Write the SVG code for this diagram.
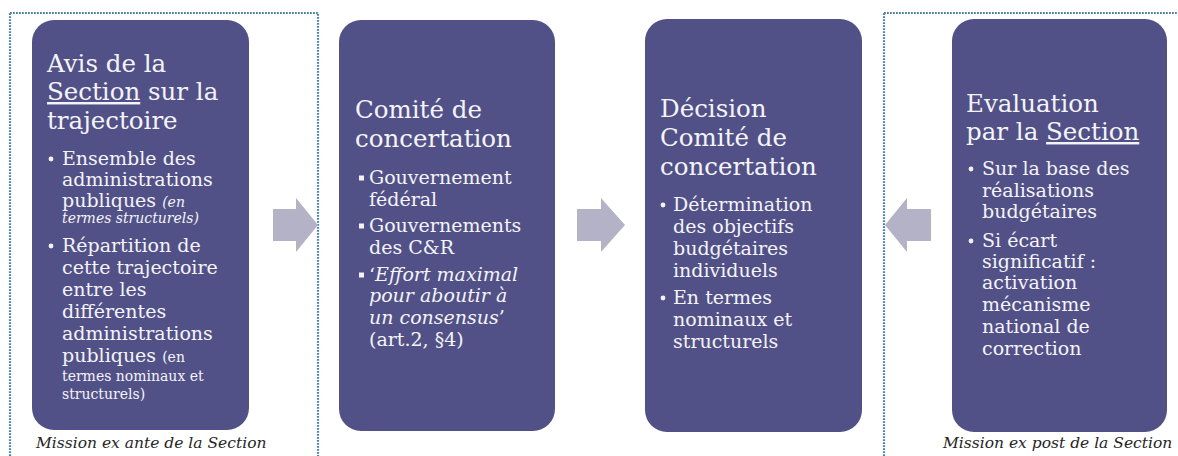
<svg xmlns="http://www.w3.org/2000/svg" width="1178" height="456" viewBox="0 0 1178 456">
<style>
.frame{fill:none;stroke:#4a82ab;stroke-width:2.2;stroke-dasharray:1.8 1.2}
.box{fill:#525187}
.t{font-family:"DejaVu Serif","Liberation Serif",serif;fill:#f4f4f8}
.h{font-size:24.5px}
.b{font-size:19px}
.s{font-size:14px}
.i{font-style:italic}
.cap{font-family:"DejaVu Serif","Liberation Serif",serif;font-size:15.5px;font-style:italic;fill:#262626}
.dot{fill:#f4f4f8}
.arr{fill:#b3b2c7}
</style>
<g id="frame-ex-ante">
<rect class="frame" x="10" y="13" width="308" height="470"/>
<text class="cap" x="36" y="448">Mission ex ante de la Section</text>
</g>
<g id="frame-ex-post">
<rect class="frame" x="884" y="13" width="320" height="470"/>
<text class="cap" x="943" y="448">Mission ex post de la Section</text>
</g>
<g id="node-avis">
<rect class="box" x="32" y="20" width="217" height="410" rx="22"/>
<text class="t h" x="47" y="72">Avis de la</text>
<text class="t h" x="47" y="100"><tspan text-decoration="underline">Section</tspan> sur la</text>
<text class="t h" x="47" y="129">trajectoire</text>
<circle class="dot" cx="51" cy="159" r="2.4"/>
<text class="t b" x="62" y="165">Ensemble des</text>
<text class="t b" x="62" y="186">administrations</text>
<text class="t b" x="62" y="207">publiques <tspan class="s i">(en</tspan></text>
<text class="t s i" x="62" y="223">termes structurels)</text>
<circle class="dot" cx="51" cy="246" r="2.4"/>
<text class="t b" x="62" y="252">Répartition de</text>
<text class="t b" x="62" y="274">cette trajectoire</text>
<text class="t b" x="62" y="296">entre les</text>
<text class="t b" x="62" y="318">différentes</text>
<text class="t b" x="62" y="340">administrations</text>
<text class="t b" x="62" y="362">publiques <tspan class="s">(en</tspan></text>
<text class="t s" x="62" y="381">termes nominaux et</text>
<text class="t s" x="62" y="399">structurels)</text>
</g>
<g id="node-comite">
<rect class="box" x="339" y="20" width="216" height="411" rx="22"/>
<text class="t h" x="355" y="118">Comité de</text>
<text class="t h" x="355" y="147">concertation</text>
<rect class="dot" x="359" y="175.5" width="5" height="5"/>
<text class="t b" x="369" y="184">Gouvernement</text>
<text class="t b" x="369" y="206">fédéral</text>
<rect class="dot" x="359" y="223.5" width="5" height="5"/>
<text class="t b" x="369" y="232">Gouvernements</text>
<text class="t b" x="369" y="254">des C&amp;R</text>
<rect class="dot" x="359" y="272.5" width="5" height="5"/>
<text class="t b" x="369" y="281">‘<tspan class="i">Effort maximal</tspan></text>
<text class="t b i" x="369" y="302">pour aboutir à</text>
<text class="t b" x="369" y="324"><tspan class="i">un consensus</tspan>’</text>
<text class="t b" x="369" y="346">(art.2, §4)</text>
</g>
<g id="node-decision">
<rect class="box" x="645" y="19" width="217" height="413" rx="22"/>
<text class="t h" x="660" y="117">Décision</text>
<text class="t h" x="660" y="146">Comité de</text>
<text class="t h" x="660" y="175">concertation</text>
<circle class="dot" cx="663" cy="205" r="2.4"/>
<text class="t b" x="673" y="211">Détermination</text>
<text class="t b" x="673" y="233">des objectifs</text>
<text class="t b" x="673" y="255">budgétaires</text>
<text class="t b" x="673" y="277">individuels</text>
<circle class="dot" cx="663" cy="298" r="2.4"/>
<text class="t b" x="673" y="304">En termes</text>
<text class="t b" x="673" y="326">nominaux et</text>
<text class="t b" x="673" y="348">structurels</text>
</g>
<g id="node-evaluation">
<rect class="box" x="952" y="19" width="215" height="413" rx="22"/>
<text class="t h" x="966" y="112">Evaluation</text>
<text class="t h" x="966" y="140">par la <tspan text-decoration="underline">Section</tspan></text>
<circle class="dot" cx="971" cy="169" r="2.4"/>
<text class="t b" x="982" y="175">Sur la base des</text>
<text class="t b" x="982" y="197">réalisations</text>
<text class="t b" x="982" y="218">budgétaires</text>
<circle class="dot" cx="971" cy="241" r="2.4"/>
<text class="t b" x="982" y="247">Si écart</text>
<text class="t b" x="982" y="268">significatif :</text>
<text class="t b" x="982" y="289">activation</text>
<text class="t b" x="982" y="311">mécanisme</text>
<text class="t b" x="982" y="333">national de</text>
<text class="t b" x="982" y="355">correction</text>
</g>
<g id="connectors">
<polygon class="arr" points="273,209 296,209 296,198 318,225 296,252 296,241 273,241"/>
<polygon class="arr" points="577,209 601,209 601,198 625,225 601,252 601,241 577,241"/>
<polygon class="arr" points="931,209 907,209 907,198 885,225 907,252 907,241 931,241"/>
</g>
</svg>
